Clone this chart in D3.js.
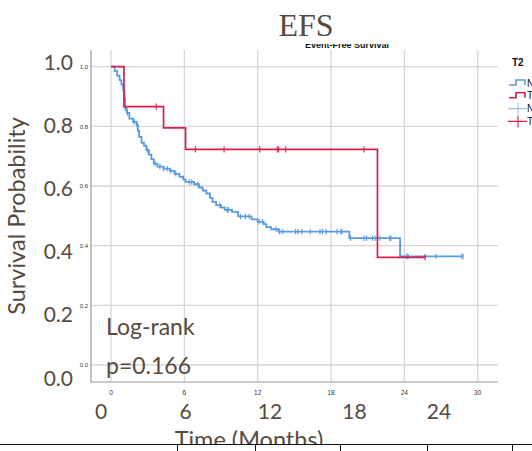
<!DOCTYPE html>
<html>
<head>
<meta charset="utf-8">
<script src="https://cdn.jsdelivr.net/npm/d3@7/dist/d3.min.js"></script>
<style>
  html, body { margin: 0; padding: 0; background: #fff; overflow: hidden; }
  svg { display: block; }
</style>
</head>
<body>
<svg id="chart" width="532" height="451"></svg>
<script>
// Kaplan-Meier estimates for event-free survival, by T2 group
// events: [month, survival after the drop]
const groups = ["Normal", "Thickened"];
const normalEvents = [
  [0.3, 0.985], [0.5, 0.97], [0.7, 0.955], [0.85, 0.94], [1.0, 0.92],
  [1.1, 0.895], [1.15, 0.86], [1.3, 0.845], [1.5, 0.826], [1.8, 0.815],
  [2.1, 0.804], [2.2, 0.785], [2.3, 0.765], [2.5, 0.745], [2.7, 0.735],
  [2.9, 0.72], [3.1, 0.705], [3.3, 0.69], [3.5, 0.675], [3.8, 0.665],
  [4.3, 0.658], [4.8, 0.651], [5.2, 0.641], [5.6, 0.631], [5.9, 0.622],
  [6.1, 0.614], [6.8, 0.606], [7.2, 0.595], [7.5, 0.585], [7.8, 0.575],
  [8.1, 0.56], [8.3, 0.547], [8.6, 0.536], [9.0, 0.528], [9.3, 0.52],
  [9.9, 0.513], [10.4, 0.498], [11.5, 0.488], [12.0, 0.48], [12.5, 0.472],
  [12.7, 0.462], [13.1, 0.455], [13.7, 0.447], [19.5, 0.425], [23.65, 0.364]
];
const normalCensored = [
  1.2, 1.35, 1.9, 2.15, 3.0, 3.6, 4.0, 4.3, 4.6, 4.9, 5.3, 6.4, 6.6, 7.1,
  8.9, 9.5, 9.6, 10.6, 11.0, 11.3, 12.1, 12.4, 13.5, 13.8, 14.05, 15.1,
  15.3, 15.6, 16.3, 17.1, 17.3, 17.6, 18.5, 18.8, 18.9, 19.6, 20.7, 20.9,
  21.4, 21.6, 21.8, 22.0, 22.8, 22.9, 24.2, 24.3, 26.6, 28.7, 28.8
];
const normalEnd = 28.8;

const thickenedEvents = [[1.06, 0.866], [4.3, 0.795], [6.1, 0.723], [21.8, 0.361]];
const thickenedCensored = [3.7, 6.9, 9.25, 12.17, 13.6, 13.72, 14.3, 20.7, 25.7];
const thickenedEnd = 25.7;

// axis ticks
const plotTicksX = [0, 6, 12, 18, 24, 30];
const plotTicksY = [0, 0.2, 0.4, 0.6, 0.8, 1.0];
const labelTicksX = [0, 6, 12, 18, 24];
const labelTicksY = [0, 0.2, 0.4, 0.6, 0.8, 1.0];

const blue = "#5a9ae0";
const red = "#d81e48";
const ink = "#584a3e";

const svg = d3.select("#chart");
svg.append("rect").attr("width", 532).attr("height", 451).attr("fill", "#fff");

// plot scales
const x = d3.scaleLinear().domain([0, 30]).range([111, 477.7]);
const y = d3.scaleLinear().domain([0, 1]).range([365, 66.7]);
const frame = { left: 91, right: 498, top: 50, bottom: 382 };

// gridlines
const grid = svg.append("g").attr("stroke", "#d6d6d6").attr("stroke-width", 1.3);
grid.selectAll(".gx").data(plotTicksX).join("line")
  .attr("x1", d => x(d)).attr("x2", d => x(d))
  .attr("y1", frame.top).attr("y2", frame.bottom);
grid.selectAll(".gy").data(plotTicksY).join("line")
  .attr("x1", frame.left).attr("x2", frame.right)
  .attr("y1", d => y(d)).attr("y2", d => y(d));

// axis lines
svg.append("path")
  .attr("d", `M${frame.left},${frame.top}V${frame.bottom}H${frame.right}`)
  .attr("fill", "none").attr("stroke", "#9a9a9a").attr("stroke-width", 1.2);

// small tick labels
svg.append("g").selectAll("text").data(plotTicksY).join("text")
  .attr("x", 88).attr("y", d => y(d) + 2.2)
  .attr("text-anchor", "end")
  .attr("font-family", "Liberation Sans, Arial, sans-serif")
  .attr("font-size", 6).attr("fill", "#333")
  .text(d => d.toFixed(1));
svg.append("g").selectAll("text").data(plotTicksX).join("text")
  .attr("x", d => x(d)).attr("y", 395)
  .attr("text-anchor", "middle")
  .attr("font-family", "Liberation Sans, Arial, sans-serif")
  .attr("font-size", 6.5).attr("fill", "#333")
  .text(d => d);

// survival curves
const stepLine = d3.line().x(d => x(d[0])).y(d => y(d[1])).curve(d3.curveStepAfter);

function survivalAt(events, t) {
  let s = 1;
  for (const e of events) { if (e[0] <= t) s = e[1]; }
  return s;
}

function drawGroup(events, censored, end, color, tickH, width) {
  const pts = [[0, 1], ...events, [end, events[events.length - 1][1]]];
  svg.append("path").attr("d", stepLine(pts))
    .attr("fill", "none").attr("stroke", color)
    .attr("stroke-width", width).attr("stroke-linejoin", "miter");
  svg.append("g").selectAll("line").data(censored).join("line")
    .attr("x1", d => x(d)).attr("x2", d => x(d))
    .attr("y1", d => y(survivalAt(events, d)) - tickH)
    .attr("y2", d => y(survivalAt(events, d)) + tickH)
    .attr("stroke", color).attr("stroke-width", 1.1);
}
drawGroup(normalEvents, normalCensored, normalEnd, blue, 2.8, 1.8);
drawGroup(thickenedEvents, thickenedCensored, thickenedEnd, red, 3.2, 1.7);

// chart heading from the statistics package, mostly covered by the title band
svg.append("text").attr("x", 347).attr("y", 47.5)
  .attr("text-anchor", "middle")
  .attr("font-family", "Liberation Sans, Arial, sans-serif")
  .attr("font-weight", "bold").attr("font-size", 9).attr("fill", "#111")
  .text("Event-Free Survival");
svg.append("rect").attr("x", 280).attr("y", 0).attr("width", 140).attr("height", 44).attr("fill", "#fff");

svg.append("text").attr("x", 306).attr("y", 36)
  .attr("text-anchor", "middle")
  .attr("font-family", "Liberation Serif, Times New Roman, serif")
  .attr("font-size", 32).attr("fill", ink)
  .text("EFS");

// legend
const legend = svg.append("g");
legend.append("text").attr("x", 512).attr("y", 66)
  .attr("font-family", "Liberation Sans, Arial, sans-serif")
  .attr("font-weight", "bold").attr("font-size", 10).attr("fill", "#111")
  .text("T2");
const legendItems = [
  { label: groups[0], color: blue, kind: "step" },
  { label: groups[1], color: red, kind: "step" },
  { label: groups[0] + "-censored", color: blue, kind: "cross" },
  { label: groups[1] + "-censored", color: red, kind: "cross" }
];
legendItems.forEach((it, i) => {
  const cy = 83 + i * 12.8;
  if (it.kind === "step") {
    legend.append("path")
      .attr("d", `M509,${cy + 2}H516V${cy - 3}H525V${cy + 2}`)
      .attr("fill", "none").attr("stroke", it.color).attr("stroke-width", 1.6);
  } else {
    legend.append("path")
      .attr("d", `M508,${cy}H527M518,${cy - 6}V${cy + 6}`)
      .attr("fill", "none").attr("stroke", it.color).attr("stroke-width", 1.1)
      .attr("opacity", i === 2 ? 0.6 : 1);
  }
  legend.append("text").attr("x", 527).attr("y", cy + 3.5)
    .attr("font-family", "Liberation Sans, Arial, sans-serif")
    .attr("font-size", 10).attr("fill", "#111")
    .text(it.label);
});

// large axis labels
const fontMain = "Lato, 'Open Sans', sans-serif";
const yBig = d3.scaleLinear().domain([0, 1]).range([378, 62]);
const xBig = d3.scaleLinear().domain([0, 24]).range([101, 439]);

const yl = svg.append("g");
yl.selectAll("rect").data(labelTicksY).join("rect")
  .attr("x", 40).attr("y", d => yBig(d) - 11).attr("width", 38.5).attr("height", 22)
  .attr("fill", "#fff");
yl.selectAll("text").data(labelTicksY).join("text")
  .attr("x", 73).attr("y", d => yBig(d) + 7.5)
  .attr("text-anchor", "end")
  .attr("font-family", fontMain).attr("font-size", 21).attr("fill", ink)
  .text(d => d.toFixed(1));

svg.append("g").selectAll("text").data(labelTicksX).join("text")
  .attr("x", d => xBig(d)).attr("y", 419)
  .attr("text-anchor", "middle")
  .attr("font-family", fontMain).attr("font-size", 21).attr("fill", ink)
  .text(d => d);

svg.append("text")
  .attr("transform", "translate(25,216) rotate(-90)")
  .attr("text-anchor", "middle")
  .attr("font-family", fontMain).attr("font-size", 23.5).attr("fill", ink)
  .text("Survival Probability");

svg.append("text").attr("x", 249).attr("y", 448)
  .attr("text-anchor", "middle")
  .attr("font-family", fontMain).attr("font-size", 23.5).attr("fill", ink)
  .text("Time (Months)");

// log-rank test result
svg.append("text").attr("x", 106).attr("y", 335)
  .attr("font-family", fontMain).attr("font-size", 23).attr("fill", ink)
  .text("Log-rank");
svg.append("text").attr("x", 106).attr("y", 374)
  .attr("font-family", fontMain).attr("font-size", 23).attr("fill", ink)
  .text("p=0.166");

// table border beneath the figure
svg.append("rect").attr("x", 0).attr("y", 444).attr("width", 532).attr("height", 7).attr("fill", "#fff");
const table = svg.append("g").attr("stroke", "#111").attr("stroke-width", 1);
table.append("line").attr("x1", 0).attr("x2", 532).attr("y1", 444.5).attr("y2", 444.5);
[177, 255, 340, 427, 512].forEach(cx => {
  table.append("line").attr("x1", cx + 0.5).attr("x2", cx + 0.5).attr("y1", 444.5).attr("y2", 451);
});
</script>
</body>
</html>
